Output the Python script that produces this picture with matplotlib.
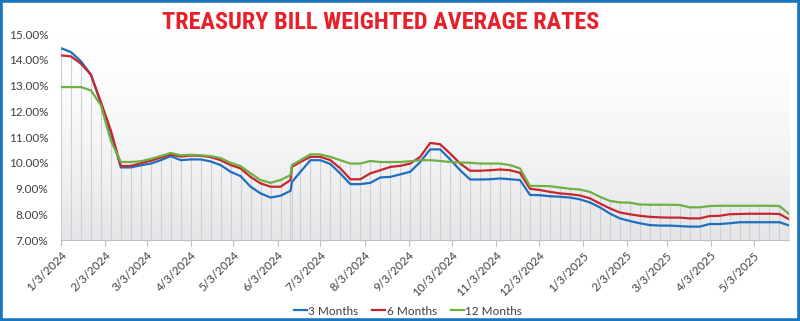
import numpy as np
import pandas as pd
import matplotlib
matplotlib.use("Agg")
import matplotlib.pyplot as plt
from matplotlib.patches import Rectangle
from matplotlib import font_manager

# auction dates (weekly, one extra re-issue in June 2024)
dates = [
    "2024-01-03", "2024-01-10", "2024-01-17", "2024-01-24", "2024-01-31",
    "2024-02-07", "2024-02-14", "2024-02-21", "2024-02-28", "2024-03-06",
    "2024-03-13", "2024-03-20", "2024-03-27", "2024-04-03", "2024-04-10",
    "2024-04-17", "2024-04-24", "2024-05-01", "2024-05-08", "2024-05-15",
    "2024-05-22", "2024-05-29", "2024-06-05", "2024-06-12", "2024-06-13",
    "2024-06-19", "2024-06-26", "2024-07-03", "2024-07-10", "2024-07-17",
    "2024-07-24", "2024-07-31", "2024-08-07", "2024-08-14", "2024-08-21",
    "2024-08-28", "2024-09-04", "2024-09-11", "2024-09-18", "2024-09-25",
    "2024-10-02", "2024-10-09", "2024-10-16", "2024-10-23", "2024-10-30",
    "2024-11-06", "2024-11-13", "2024-11-20", "2024-11-27", "2024-12-04",
    "2024-12-11", "2024-12-18", "2024-12-25", "2025-01-01", "2025-01-08",
    "2025-01-15", "2025-01-22", "2025-01-29", "2025-02-05", "2025-02-12",
    "2025-02-19", "2025-02-26", "2025-03-05", "2025-03-12", "2025-03-19",
    "2025-03-26", "2025-04-02", "2025-04-09", "2025-04-16", "2025-04-23",
    "2025-04-30", "2025-05-07", "2025-05-14", "2025-05-21", "2025-05-28",
]

m3 = [14.45, 14.30, 13.94, 13.42, 12.30, 11.15, 9.82, 9.82, 9.90, 9.97,
      10.10, 10.26, 10.10, 10.13, 10.13, 10.05, 9.91, 9.65, 9.48, 9.07,
      8.81, 8.65, 8.72, 8.91, 9.25, 9.65, 10.10, 10.10, 9.95, 9.58,
      9.17, 9.17, 9.22, 9.43, 9.45, 9.55, 9.65, 10.03, 10.52, 10.52,
      10.13, 9.71, 9.35, 9.35, 9.36, 9.39, 9.36, 9.33, 8.75, 8.74,
      8.70, 8.68, 8.65, 8.58, 8.46, 8.27, 8.03, 7.84, 7.74, 7.65,
      7.58, 7.56, 7.56, 7.54, 7.52, 7.52, 7.62, 7.62, 7.65, 7.69,
      7.69, 7.69, 7.69, 7.69, 7.56]

m6 = [14.17, 14.13, 13.85, 13.42, 12.36, 11.25, 9.87, 9.88, 9.98, 10.08,
      10.20, 10.33, 10.24, 10.28, 10.27, 10.22, 10.10, 9.91, 9.78, 9.45,
      9.20, 9.07, 9.07, 9.33, 9.84, 10.03, 10.23, 10.23, 10.10, 9.78,
      9.36, 9.36, 9.59, 9.71, 9.84, 9.88, 9.97, 10.23, 10.77, 10.72,
      10.36, 9.97, 9.69, 9.69, 9.71, 9.74, 9.71, 9.61, 8.99, 8.94,
      8.87, 8.81, 8.78, 8.73, 8.62, 8.42, 8.23, 8.07, 8.00, 7.94,
      7.90, 7.88, 7.87, 7.87, 7.84, 7.84, 7.93, 7.94, 8.00, 8.01,
      8.02, 8.02, 8.02, 8.01, 7.80]

m12 = [12.94, 12.94, 12.94, 12.81, 12.23, 10.85, 10.03, 10.03, 10.06, 10.15,
       10.26, 10.38, 10.29, 10.31, 10.29, 10.26, 10.18, 10.00, 9.87, 9.59,
       9.33, 9.22, 9.33, 9.52, 9.91, 10.10, 10.33, 10.32, 10.23, 10.10,
       9.97, 9.97, 10.07, 10.03, 10.03, 10.03, 10.06, 10.10, 10.10, 10.07,
       10.03, 10.01, 10.00, 9.97, 9.97, 9.97, 9.91, 9.78, 9.10, 9.10,
       9.09, 9.04, 8.99, 8.96, 8.87, 8.68, 8.52, 8.46, 8.45, 8.38,
       8.37, 8.37, 8.37, 8.36, 8.27, 8.27, 8.32, 8.33, 8.33, 8.33,
       8.33, 8.33, 8.33, 8.32, 8.00]

tick_dates = ["2024-01-03", "2024-02-03", "2024-03-03", "2024-04-03",
              "2024-05-03", "2024-06-03", "2024-07-03", "2024-08-03",
              "2024-09-03", "2024-10-03", "2024-11-03", "2024-12-03",
              "2025-01-03", "2025-02-03", "2025-03-03", "2025-04-03",
              "2025-05-03"]

series = [("3 Months", m3, "#1f6fc0"),
          ("6 Months", m6, "#c8262d"),
          ("12 Months", m12, "#6fb043")]

x = pd.to_datetime(dates)
ticks = pd.to_datetime(tick_dates)

fig = plt.figure(figsize=(8, 3.21), dpi=100)
ax = fig.add_axes([0.07625, 0.2523, 0.9105, 0.6417])

# soft gradient behind the plot: white at the top, light grey at the bottom
grad = np.linspace(0, 1, 256).reshape(-1, 1) ** 1.5
c_top = np.array([1.0, 1.0, 1.0])
c_bot = np.array([0.895, 0.898, 0.908])
img = c_top + (c_bot - c_top) * grad[..., None]
ax.imshow(img, extent=[0, 1, 0, 1], transform=ax.transAxes,
          aspect="auto", zorder=0)

# drop lines from the highest series down to the axis
top = np.max(np.vstack([m3, m6, m12]), axis=0)
ax.vlines(x, 7, top, color="#cfd0d4", lw=0.8, zorder=1)

for name, vals, col in series:
    ax.plot(x, vals, color=col, lw=1.6, label=name, zorder=3)

ax.set_xlim(x[0], x[-1])
ax.set_ylim(7, 15)
ax.set_yticks(np.arange(7, 15.5, 1))
ax.set_yticklabels([f"{v:.2f}%" for v in np.arange(7, 15.5, 1)])
ax.set_xticks(ticks)
ax.set_xticklabels([f"{d.month}/{d.day}/{d.year}" for d in ticks],
                   rotation=45, ha="right", va="top", rotation_mode="anchor")

for s in ["top", "right", "left"]:
    ax.spines[s].set_visible(False)
ax.spines["bottom"].set_color("#bfbfbf")
ax.tick_params(axis="y", length=0, pad=9, labelsize=8.5, labelcolor="#404040")
ax.tick_params(axis="x", length=4, color="#bfbfbf", pad=3, labelsize=8.5,
               labelcolor="#404040")
for lab in ax.get_xticklabels() + ax.get_yticklabels():
    lab.set_family("Lato")

# condensed heading font if one is installed
names = {f.name for f in font_manager.fontManager.ttflist}
narrow = [n for n in ["Liberation Sans Narrow", "DejaVu Sans Condensed",
                      "Roboto Condensed", "Open Sans Condensed"] if n in names]
have_cond = any(f.name == "DejaVu Sans" and f.stretch in ("condensed", 700)
                for f in font_manager.fontManager.ttflist)
if narrow:
    tfam, tsize, tstretch = narrow[0], 17.5, "normal"
elif have_cond:
    tfam, tsize, tstretch = "DejaVu Sans", 14.7, "condensed"
else:
    tfam, tsize, tstretch = "Roboto", 13.3, "normal"

fig.text(0.476, 0.931, "TREASURY BILL WEIGHTED AVERAGE RATES",
         ha="center", va="center", color="#e8202a", fontsize=tsize,
         fontweight="bold", fontstretch=tstretch, family=tfam)

leg = fig.legend(loc="center", bbox_to_anchor=(0.51, 0.031), ncol=3,
                 frameon=False, handlelength=1.1, handletextpad=0.1,
                 columnspacing=1.2, prop={"family": "Lato", "size": 8.5})
for t in leg.get_texts():
    t.set_color("#404040")

fig.patches.append(Rectangle((0, 0), 1, 1, transform=fig.transFigure,
                             fill=False, edgecolor="#1b75bc", lw=4,
                             zorder=10))

fig.savefig("out.png", dpi=100)
